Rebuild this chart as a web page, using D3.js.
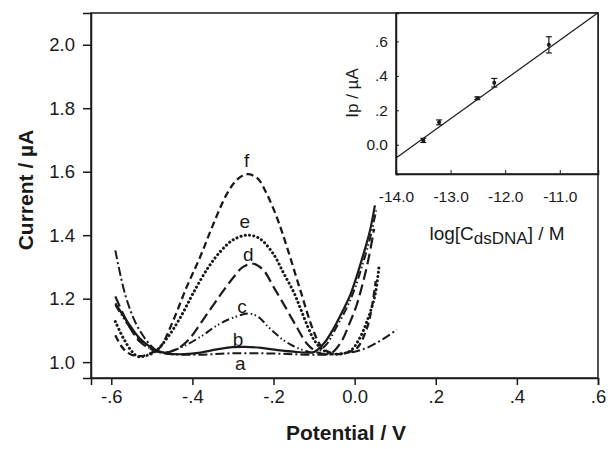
<!DOCTYPE html>
<html><head><meta charset="utf-8">
<script src="https://cdn.jsdelivr.net/npm/d3@7"></script>
<style>body{margin:0;background:#fff}svg{display:block}text{font-family:"Liberation Sans",Arial,sans-serif;fill:#1a1a1a}</style>
</head><body><svg id="c" width="608" height="449"></svg>
<script>
// ---------- DATA ----------
const curveNames = ["a","b","c","d","e","f"];
const curveA = [[-0.59,1.352],[-0.565,1.21],[-0.537,1.116],[-0.504,1.054],[-0.483,1.032],[-0.45,1.025],[-0.40,1.023],[-0.35,1.025],[-0.30,1.028],[-0.25,1.028],[-0.20,1.027],[-0.15,1.025],[-0.10,1.023],[-0.05,1.025],[0.0,1.033],[0.03,1.045],[0.06,1.065],[0.085,1.085],[0.104,1.103]];
const curveB = [[-0.59,1.185],[-0.56,1.127],[-0.53,1.075],[-0.49,1.038],[-0.46,1.027],[-0.42,1.025],[-0.38,1.03],[-0.34,1.04],[-0.30,1.047],[-0.27,1.048],[-0.23,1.045],[-0.19,1.038],[-0.15,1.033],[-0.12,1.03],[-0.10,1.032],[-0.075,1.06],[-0.052,1.106],[-0.03,1.16],[-0.011,1.211],[0.005,1.27],[0.021,1.337],[0.037,1.41],[0.05,1.494]];
const curveC = [[-0.59,1.18],[-0.56,1.12],[-0.53,1.07],[-0.50,1.04],[-0.47,1.03],[-0.43,1.045],[-0.38,1.08],[-0.34,1.115],[-0.30,1.14],[-0.258,1.153],[-0.235,1.14],[-0.216,1.115],[-0.195,1.09],[-0.176,1.07],[-0.15,1.05],[-0.12,1.035],[-0.095,1.03],[-0.07,1.055],[-0.045,1.11],[-0.02,1.17],[0.0,1.23],[0.02,1.31],[0.038,1.39],[0.053,1.478]];
const curveD = [[-0.59,1.207],[-0.57,1.15],[-0.55,1.10],[-0.53,1.065],[-0.50,1.04],[-0.47,1.03],[-0.44,1.04],[-0.41,1.07],[-0.373,1.135],[-0.332,1.21],[-0.30,1.265],[-0.275,1.30],[-0.25,1.31],[-0.225,1.29],[-0.20,1.237],[-0.176,1.185],[-0.143,1.111],[-0.118,1.059],[-0.09,1.03],[-0.06,1.027],[-0.035,1.06],[-0.011,1.127],[0.005,1.18],[0.021,1.253],[0.035,1.33],[0.048,1.42]];
const curveE = [[-0.59,1.128],[-0.57,1.075],[-0.55,1.035],[-0.535,1.018],[-0.515,1.02],[-0.49,1.035],[-0.46,1.08],[-0.43,1.14],[-0.397,1.22],[-0.36,1.30],[-0.33,1.35],[-0.30,1.385],[-0.266,1.40],[-0.235,1.39],[-0.20,1.34],[-0.175,1.28],[-0.15,1.22],[-0.134,1.17],[-0.115,1.11],[-0.10,1.07],[-0.08,1.04],[-0.06,1.027],[-0.04,1.025],[-0.011,1.035],[0.01,1.07],[0.03,1.127],[0.05,1.21],[0.06,1.30]];
const curveF = [[-0.59,1.085],[-0.575,1.05],[-0.56,1.03],[-0.54,1.02],[-0.52,1.02],[-0.50,1.03],[-0.479,1.048],[-0.447,1.132],[-0.414,1.237],[-0.381,1.331],[-0.35,1.43],[-0.315,1.53],[-0.29,1.575],[-0.266,1.592],[-0.24,1.58],[-0.217,1.531],[-0.19,1.45],[-0.167,1.363],[-0.134,1.227],[-0.102,1.10],[-0.08,1.045],[-0.06,1.03],[-0.04,1.025],[-0.02,1.03],[0.005,1.043],[0.03,1.106],[0.042,1.17],[0.052,1.255]];
const xTicks = [-0.6,-0.4,-0.2,0.0,0.2,0.4,0.6];
const yTicks = [1.0,1.2,1.4,1.6,1.8,2.0];
// inset data
const insetLogC = [-13.50,-13.21,-12.51,-12.20,-11.20];
const insetIp = [0.025,0.13,0.27,0.36,0.58];
const insetErr = [0.012,0.014,0.008,0.025,0.047];
const fitSlope = 0.228, fitIntercept = 3.115;
const insetXTicks = [-14,-13,-12,-11];
const insetYTicks = [0.0,0.2,0.4,0.6];

// ---------- STYLE ----------
const curves = [curveA,curveB,curveC,curveD,curveE,curveF];
const dash = ["9,3,2,3", null, "8,3,1.5,2.5,1.5,3", "11,5", "0.1,4.2", "7,4"];
const widths = [2, 2.2, 2, 2.2, 3, 2.3];
const labelDx = [-13,-7,-8,-5,-2,0];
const labelDy = [-17,1,1,3,7,7];

const svg = d3.select("#c");
const ink = "#1a1a1a";
const x = d3.scaleLinear().domain([-0.65,0.6]).range([91,598]);
const y = d3.scaleLinear().domain([0.95,2.1]).range([378,13]);

svg.append("rect").attr("x",91).attr("y",13).attr("width",507).attr("height",365)
  .attr("fill","none").attr("stroke",ink).attr("stroke-width",1.5);

const hy = s => s.replace("\u2212","-");
const fmtX = v => v===0 ? "0.0" : hy(d3.format(".1f")(v)).replace("0.",".");
const xa = svg.append("g").attr("transform","translate(0,378)")
  .call(d3.axisBottom(x).tickValues(xTicks).tickSize(7).tickPadding(5).tickFormat(fmtX));
const ya = svg.append("g").attr("transform","translate(91,0)")
  .call(d3.axisLeft(y).tickValues(yTicks).tickSize(8).tickPadding(8).tickFormat(d3.format(".1f")));
[xa,ya].forEach(g=>{
  g.select(".domain").attr("stroke",ink).attr("stroke-width",1.5);
  g.selectAll(".tick line").attr("stroke",ink).attr("stroke-width",1.5);
  g.selectAll(".tick text").attr("font-size",18.5).attr("fill","#222").style("font-family","Liberation Sans, Arial");
});

const line = d3.line().x(d=>x(d[0])).y(d=>y(d[1])).curve(d3.curveCatmullRom.alpha(0.5));
curves.forEach((c,i)=>{
  const p = svg.append("path").attr("d",line(c)).attr("fill","none")
    .attr("stroke",ink).attr("stroke-width",widths[i]);
  if (dash[i]) p.attr("stroke-dasharray",dash[i]);
  if (i===4) p.attr("stroke-linecap","round");
});
curves.forEach((c,i)=>{
  let pk;
  if (i===0) { pk = c.find(d=>Math.abs(d[0]+0.25)<1e-6); }
  else pk = c.reduce((m,d)=> (d[0]>-0.4 && d[0]<-0.15 && d[1]>m[1]) ? d : m, [0,-1]);
  svg.append("text").attr("x",x(pk[0])+labelDx[i]).attr("y", y(pk[1])-labelDy[i])
    .attr("text-anchor","middle").attr("font-size",19).text(curveNames[i]);
});

svg.append("text").attr("x",346).attr("y",440).attr("text-anchor","middle")
  .attr("font-size",21).attr("font-weight","bold").text("Potential / V");
svg.append("text").attr("transform","translate(33,190) rotate(-90)").attr("text-anchor","middle")
  .attr("font-size",21).attr("font-weight","bold").text("Current / µA");

// ---------- INSET ----------
const ix = d3.scaleLinear().domain([-14,-10.3]).range([396,598]);
const iy = d3.scaleLinear().domain([-0.17,0.765]).range([174,13]);
svg.append("rect").attr("x",396).attr("y",13).attr("width",202).attr("height",161)
  .attr("fill","#fff").attr("stroke",ink).attr("stroke-width",1.5);
svg.append("clipPath").attr("id","ic").append("rect").attr("x",396).attr("y",13).attr("width",202).attr("height",161);
const ixa = svg.append("g").attr("transform","translate(0,174)")
  .call(d3.axisBottom(ix).tickValues(insetXTicks).tickSize(-4).tickPadding(17).tickFormat(v=>hy(d3.format(".1f")(v))));
const iya = svg.append("g").attr("transform","translate(396,0)")
  .call(d3.axisLeft(iy).tickValues(insetYTicks).tickSize(-3).tickPadding(8).tickFormat(v=> v===0?"0.0":d3.format(".1f")(v).replace("0.",".")));
[ixa,iya].forEach(g=>{
  g.select(".domain").attr("stroke",ink).attr("stroke-width",1.5);
  g.selectAll(".tick line").attr("stroke",ink).attr("stroke-width",1);
  g.selectAll(".tick text").attr("font-size",15.5).attr("fill","#222").style("font-family","Liberation Sans, Arial");
});
const gi = svg.append("g").attr("clip-path","url(#ic)");
gi.append("line").attr("x1",ix(-14)).attr("y1",iy(fitSlope*-14+fitIntercept))
  .attr("x2",ix(-10.3)).attr("y2",iy(fitSlope*-10.3+fitIntercept))
  .attr("stroke",ink).attr("stroke-width",1.2);
insetLogC.forEach((v,i)=>{
  const cx = ix(v), t = iy(insetIp[i]+insetErr[i]), b = iy(insetIp[i]-insetErr[i]);
  gi.append("line").attr("x1",cx).attr("x2",cx).attr("y1",t).attr("y2",b).attr("stroke",ink).attr("stroke-width",1.2);
  [t,b].forEach(yy=>gi.append("line").attr("x1",cx-3).attr("x2",cx+3).attr("y1",yy).attr("y2",yy).attr("stroke",ink).attr("stroke-width",1.2));
  gi.append("circle").attr("cx",cx).attr("cy",iy(insetIp[i])).attr("r",2).attr("fill",ink);
});
const il = svg.append("text").attr("x",497).attr("y",240).attr("text-anchor","middle").attr("font-size",19);
il.append("tspan").text("log[C");
il.append("tspan").attr("dy",4).attr("font-size",17).text("dsDNA");
il.append("tspan").attr("dy",-4).text("] / M");
svg.append("text").attr("transform","translate(358,93) rotate(-90)").attr("text-anchor","middle")
  .attr("font-size",17).text("Ip / µA");
</script></body></html>
